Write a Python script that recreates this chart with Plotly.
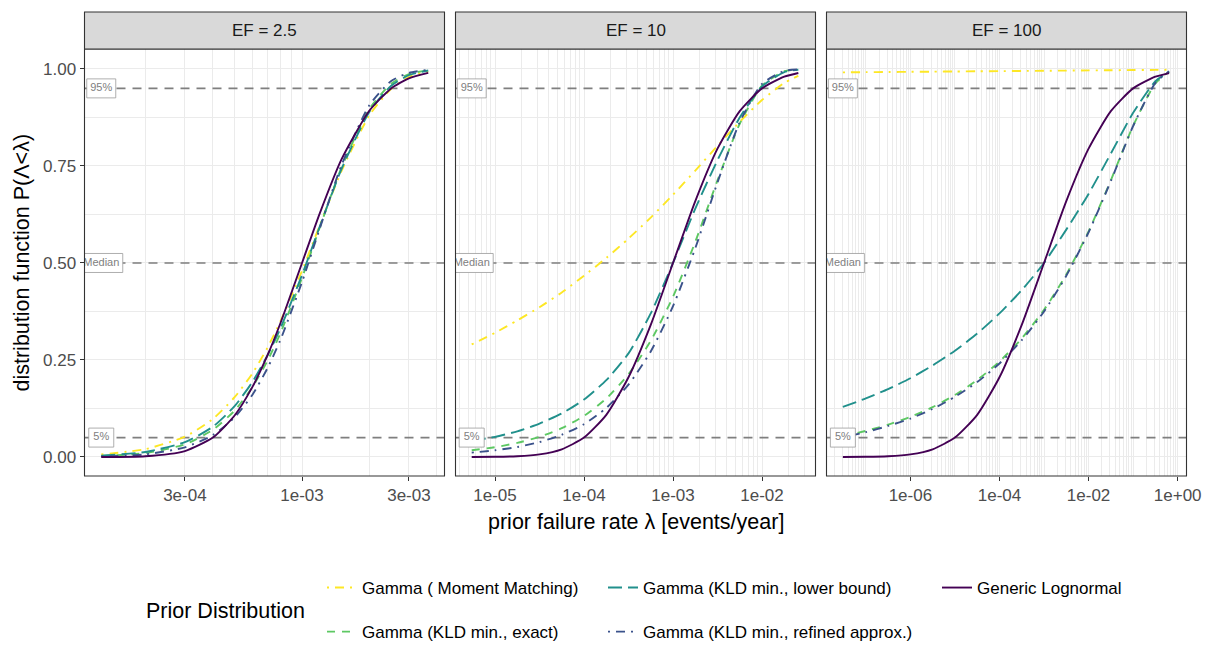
import plotly.graph_objects as go

FONT = "Liberation Sans, Arial, Helvetica, sans-serif"
W, H = 1207, 646

# ---------------- data ----------------
ef_labels = ["EF = 2.5", "EF = 10", "EF = 100"]

lam_ef2_5 = [1.27e-4, 2e-4, 3e-4, 4e-4, 5e-4, 6e-4, 7e-4, 8e-4, 1e-3, 1.2e-3, 1.5e-3, 2e-3, 2.5e-3, 3e-3, 3.66e-3]
mm_ef2_5 = [0.0066, 0.0203, 0.0524, 0.098, 0.154, 0.215, 0.281, 0.349, 0.480, 0.597, 0.737, 0.881, 0.949, 0.979, 0.994]
lb_ef2_5 = [0.0035, 0.013, 0.038, 0.078, 0.131, 0.193, 0.261, 0.331, 0.469, 0.594, 0.742, 0.890, 0.957, 0.984, 0.996]
ex_ef2_5 = [0.0026, 0.0103, 0.0326, 0.070, 0.1195, 0.1797, 0.2472, 0.3184, 0.4616, 0.5916, 0.7458, 0.8972, 0.9621, 0.9868, 0.9969]
ra_ef2_5 = [0.0012, 0.0068, 0.025, 0.0564, 0.102, 0.160, 0.228, 0.301, 0.451, 0.589, 0.752, 0.907, 0.969, 0.990, 0.998]
ln_ef2_5 = [0.0001, 0.0019, 0.0153, 0.05, 0.107, 0.180, 0.261, 0.344, 0.5, 0.628, 0.767, 0.893, 0.95, 0.976, 0.990]

lam_ef10 = [5.47e-6, 1e-5, 1.78e-5, 3.16e-5, 5.62e-5, 1e-4, 1.78e-4, 3.16e-4, 5.62e-4, 1e-3, 1.78e-3, 3.16e-3, 5.62e-3, 1e-2, 1.78e-2, 2.56e-2]
mm_ef10 = [0.290, 0.320, 0.352, 0.386, 0.424, 0.467, 0.513, 0.563, 0.617, 0.676, 0.738, 0.802, 0.864, 0.920, 0.964, 0.982]
lb_ef10 = [0.042, 0.052, 0.066, 0.086, 0.112, 0.148, 0.198, 0.267, 0.37, 0.50, 0.64, 0.765, 0.875, 0.955, 0.992, 0.998]
ex_ef10 = [0.0174, 0.0253, 0.0363, 0.0519, 0.0742, 0.1059, 0.1507, 0.2134, 0.2993, 0.4129, 0.5545, 0.7128, 0.8588, 0.9568, 0.9941, 0.998]
ra_ef10 = [0.0113, 0.0172, 0.0257, 0.0384, 0.0571, 0.0844, 0.1264, 0.1864, 0.2719, 0.3887, 0.5382, 0.7075, 0.8629, 0.9615, 0.995, 0.999]
ln_ef10 = [0.0001, 0.0005, 0.002, 0.0068, 0.0199, 0.05, 0.1087, 0.2054, 0.3405, 0.5, 0.6595, 0.7946, 0.8913, 0.95, 0.9801, 0.9897]

lam_ef100 = [3.05e-8, 1e-7, 3.16e-7, 1e-6, 3.16e-6, 1e-5, 3.16e-5, 1e-4, 3.16e-4, 1e-3, 3.16e-3, 1e-2, 3.16e-2, 0.1, 0.316, 0.641]
mm_ef100 = [0.9913, 0.9918, 0.9922, 0.9927, 0.9931, 0.9936, 0.9940, 0.9945, 0.9949, 0.9954, 0.9958, 0.9963, 0.9967, 0.9972, 0.9976, 0.9979]
lb_ef100 = [0.129, 0.151, 0.175, 0.203, 0.236, 0.274, 0.318, 0.370, 0.430, 0.50, 0.586, 0.678, 0.782, 0.887, 0.9685, 0.992]
ex_ef100 = [0.0537, 0.0672, 0.0834, 0.1035, 0.1285, 0.1597, 0.1983, 0.2461, 0.3055, 0.3793, 0.4703, 0.5815, 0.7132, 0.8537, 0.963, 0.9928]
ra_ef100 = [0.051, 0.064, 0.080, 0.099, 0.124, 0.155, 0.193, 0.241, 0.301, 0.375, 0.467, 0.579, 0.711, 0.853, 0.964, 0.994]
ln_ef100 = [0.0001, 0.0005, 0.002, 0.0068, 0.0199, 0.05, 0.1087, 0.2054, 0.3405, 0.5, 0.6595, 0.7946, 0.8913, 0.95, 0.9801, 0.9895]

ref_levels = [0.05, 0.5, 0.95]
ref_labels = ["5%", "Median", "95%"]

x_tickvals = [[3e-4, 1e-3, 3e-3], [1e-5, 1e-4, 1e-3, 1e-2], [1e-6, 1e-4, 1e-2, 1.0]]
x_ticktext = [["3e-04", "1e-03", "3e-03"], ["1e-05", "1e-04", "1e-03", "1e-02"],
              ["1e-06", "1e-04", "1e-02", "1e+00"]]
y_tickvals = [0, 0.25, 0.5, 0.75, 1.0]
y_ticktext = ["0.00", "0.25", "0.50", "0.75", "1.00"]

# ---------------- styling ----------------
styles = {
    "mm": dict(name="Gamma ( Moment Matching)", color="#FDE725", dash="2px,6px,9px,6px", legend="legend"),
    "ex": dict(name="Gamma (KLD min., exact)", color="#5DC863", dash="8px,7px", legend="legend"),
    "lb": dict(name="Gamma (KLD min., lower bound)", color="#21908C", dash="14px,6px", legend="legend2"),
    "ra": dict(name="Gamma (KLD min., refined approx.)", color="#3B528B", dash="2px,6px,9px,6px", legend="legend2"),
    "ln": dict(name="Generic Lognormal", color="#440154", dash="solid", legend="legend3"),
}
draw_order = ["mm", "ex", "lb", "ra", "ln"]

panels = [
    dict(lam=lam_ef2_5, s=dict(mm=mm_ef2_5, ex=ex_ef2_5, lb=lb_ef2_5, ra=ra_ef2_5, ln=ln_ef2_5),
         px=(84.5, 444.5), rng=[-3.971, -2.364]),
    dict(lam=lam_ef10, s=dict(mm=mm_ef10, ex=ex_ef10, lb=lb_ef10, ra=ra_ef10, ln=ln_ef10),
         px=(455.5, 815.5), rng=[-5.444, -1.399]),
    dict(lam=lam_ef100, s=dict(mm=mm_ef100, ex=ex_ef100, lb=lb_ef100, ra=ra_ef100, ln=ln_ef100),
         px=(826.5, 1186.5), rng=[-7.883, 0.198]),
]

PANEL_TOP, PANEL_BOT = 49, 476
STRIP_TOP = 12
Y_RANGE = [-0.049, 1.0515]
BOX_W = {"5%": 25, "Median": 43, "95%": 29}
BOX_H = 19


def fx(p):
    return p / W


def fy(p):
    return 1 - p / H


fig = go.Figure()
layout = dict(
    width=W, height=H,
    margin=dict(l=0, r=0, t=0, b=0, autoexpand=False),
    paper_bgcolor="white", plot_bgcolor="white",
    font=dict(family=FONT, color="black"),
    showlegend=True,
    shapes=[], annotations=[],
)

ydom = [fy(PANEL_BOT), fy(PANEL_TOP)]
minor_y = [0.125, 0.375, 0.625, 0.875]
px_per_y = (PANEL_BOT - PANEL_TOP) / (Y_RANGE[1] - Y_RANGE[0])

for i, p in enumerate(panels):
    k = "" if i == 0 else str(i + 1)
    xa, ya = "x" + k, "y" + k
    lo, hi = p["rng"]
    px_per_dec = (p["px"][1] - p["px"][0]) / (hi - lo)
    # reference dashed lines (under the curves)
    for yv in ref_levels:
        fig.add_trace(go.Scatter(
            x=[10 ** lo, 10 ** hi], y=[yv, yv], mode="lines",
            line=dict(color="#7f7f7f", width=1.6, dash="9px,7px"),
            showlegend=False, xaxis=xa, yaxis=ya, hoverinfo="skip"))
    for key in draw_order:
        st = styles[key]
        fig.add_trace(go.Scatter(
            x=p["lam"], y=p["s"][key], mode="lines",
            line=dict(color=st["color"], width=1.9, dash=st["dash"], shape="spline", smoothing=0.6),
            name=st["name"], legendgroup=key, legend=st["legend"],
            showlegend=(i == 0), xaxis=xa, yaxis=ya, hoverinfo="skip",
        ))
    # label boxes for the reference lines, on top of the curves (clipped to the panel)
    x0 = p["lam"][0]
    for yv, txt in zip(ref_levels, ref_labels):
        fx_l = x0 * 10 ** (-(BOX_W[txt] / 2) / px_per_dec)
        fx_r = x0 * 10 ** ((BOX_W[txt] / 2) / px_per_dec)
        dy = (BOX_H / 2) / px_per_y
        fig.add_trace(go.Scatter(
            x=[fx_l, fx_r, fx_r, fx_l, fx_l], y=[yv - dy, yv - dy, yv + dy, yv + dy, yv - dy],
            mode="lines", fill="toself", fillcolor="white",
            line=dict(color="#9a9a9a", width=0.8),
            showlegend=False, xaxis=xa, yaxis=ya, hoverinfo="skip"))
        fig.add_trace(go.Scatter(
            x=[x0], y=[yv], mode="text", text=[txt], textposition="middle center",
            textfont=dict(size=11, color="#808080", family=FONT), cliponaxis=True,
            showlegend=False, xaxis=xa, yaxis=ya, hoverinfo="skip"))
    minor_x = [m * 10.0 ** e for e in range(int(lo) - 2, int(hi) + 2) for m in range(1, 10)]
    layout["xaxis" + k] = dict(
        type="log", domain=[fx(p["px"][0]), fx(p["px"][1])], range=[lo, hi], anchor=ya,
        tickmode="array", tickvals=x_tickvals[i], ticktext=x_ticktext[i],
        ticks="outside", ticklen=4, tickwidth=1.1, tickcolor="#333333",
        tickfont=dict(size=17, color="#4d4d4d", family=FONT),
        showgrid=True, gridcolor="#ebebeb", gridwidth=1.1,
        minor=dict(tickmode="array", tickvals=minor_x, showgrid=True, gridcolor="#ebebeb", gridwidth=0.6, ticks=""),
        zeroline=False, showline=False, automargin=False, fixedrange=True,
    )
    layout["yaxis" + k] = dict(
        domain=ydom, range=Y_RANGE, anchor=xa,
        tickmode="array", tickvals=y_tickvals, ticktext=y_ticktext,
        showticklabels=(i == 0), ticks="outside" if i == 0 else "",
        ticklen=4, tickwidth=1.1, tickcolor="#333333",
        tickfont=dict(size=17, color="#4d4d4d", family=FONT),
        showgrid=True, gridcolor="#ebebeb", gridwidth=1.1,
        minor=dict(tickmode="array", tickvals=minor_y, showgrid=True, gridcolor="#ebebeb", gridwidth=0.6, ticks=""),
        zeroline=False, showline=False, automargin=False, fixedrange=True,
    )
    # panel border
    layout["shapes"].append(dict(
        type="rect", xref="paper", yref="paper",
        x0=fx(p["px"][0]), x1=fx(p["px"][1]), y0=fy(PANEL_BOT), y1=fy(PANEL_TOP),
        line=dict(color="#333333", width=1.1), fillcolor="rgba(0,0,0,0)", layer="above"))
    # strip
    layout["shapes"].append(dict(
        type="rect", xref="paper", yref="paper",
        x0=fx(p["px"][0]), x1=fx(p["px"][1]), y0=fy(PANEL_TOP), y1=fy(STRIP_TOP),
        line=dict(color="#333333", width=1.1), fillcolor="#d9d9d9", layer="above"))
    layout["annotations"].append(dict(
        text=ef_labels[i], xref="paper", yref="paper",
        x=fx((p["px"][0] + p["px"][1]) / 2), y=fy((PANEL_TOP + STRIP_TOP) / 2),
        xanchor="center", yanchor="middle", showarrow=False,
        font=dict(size=17, color="#1a1a1a", family=FONT)))

# axis titles
layout["annotations"].append(dict(
    text="prior failure rate λ [events/year]", xref="paper", yref="paper",
    x=fx((84.5 + 1186.5) / 2), y=fy(522), xanchor="center", yanchor="middle",
    showarrow=False, font=dict(size=21.5, color="black", family=FONT)))
layout["annotations"].append(dict(
    text="distribution function P(Λ<λ)", xref="paper", yref="paper",
    x=fx(21), y=fy((PANEL_TOP + PANEL_BOT) / 2), xanchor="center", yanchor="middle",
    textangle=-90, showarrow=False, font=dict(size=21.5, color="black", family=FONT)))
# legend title
layout["annotations"].append(dict(
    text="Prior Distribution", xref="paper", yref="paper",
    x=fx(144), y=fy(611), xanchor="left", yanchor="middle",
    showarrow=False, font=dict(size=21.5, color="black", family=FONT)))

leg_common = dict(orientation="v", xanchor="left", yanchor="top", y=fy(570),
                  font=dict(size=17, color="black", family=FONT), bgcolor="rgba(0,0,0,0)",
                  borderwidth=0, tracegroupgap=19, itemwidth=30, traceorder="grouped")
layout["legend"] = dict(x=fx(322), **leg_common)
layout["legend2"] = dict(x=fx(603), **leg_common)
layout["legend3"] = dict(x=fx(937), **leg_common)

fig.update_layout(**layout)
fig.write_html("out.html")
